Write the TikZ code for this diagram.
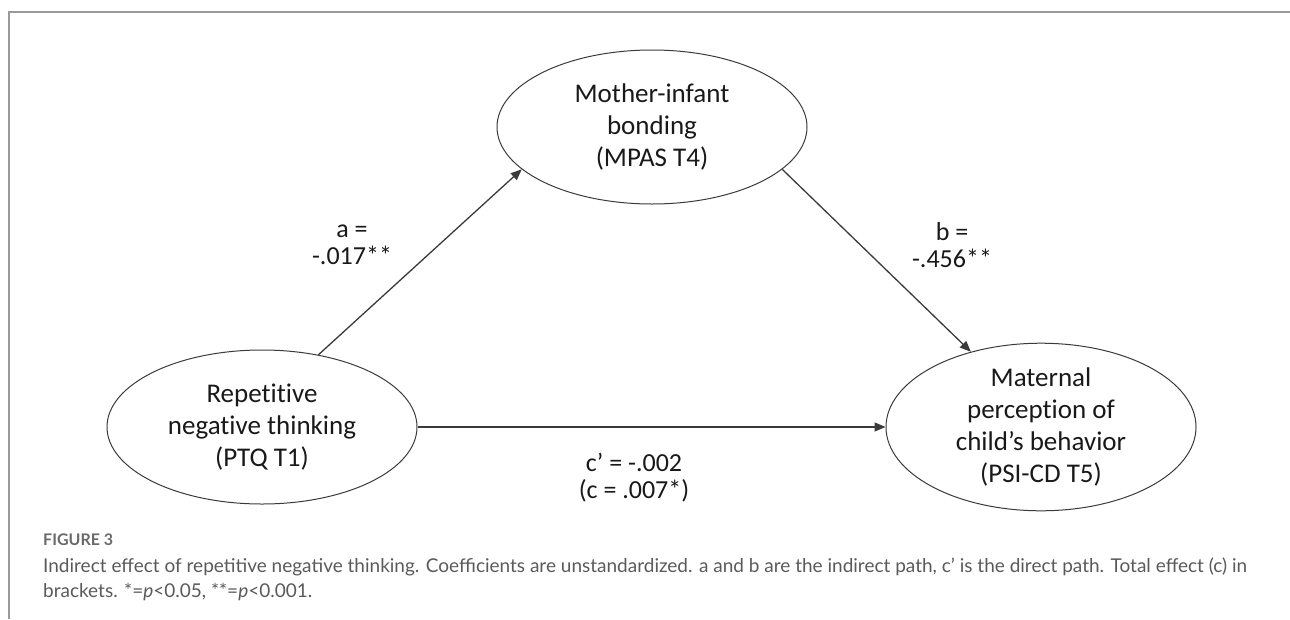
\documentclass[tikz,border=0pt]{standalone}
\usepackage{fontspec}
\setmainfont{Carlito}[Ligatures=CommonOff]
\newfontfamily\capfont{Lato}
\usetikzlibrary{shapes.geometric,arrows.meta}
\definecolor{linegray}{HTML}{3A3A3A}
\definecolor{framegray}{HTML}{9A9A9A}
\definecolor{capgray}{HTML}{5A5A5A}
\definecolor{figgray}{HTML}{6A6A6A}
\begin{document}
\begin{tikzpicture}[x=1pt,y=-1pt,
  var/.style={ellipse,draw=linegray,line width=1pt,minimum width=310pt,minimum height=154pt,inner sep=0pt,align=center,text=black!90,font=\fontsize{27}{32}\selectfont},
  pathline/.style={draw=linegray,line width=1.3pt,-{Triangle[length=11pt,width=9pt]}},
  coef/.style={align=center,text=black!90,font=\fontsize{26}{27}\selectfont},
  figlabel/.style={anchor=base west,inner sep=0pt,text=figgray,font=\capfont\bfseries\fontsize{16}{16}\selectfont},
  captext/.style={anchor=base west,inner sep=0pt,text=capgray,font=\capfont\fontsize{19}{19}\selectfont}
  ]
\useasboundingbox (0,0) rectangle (1290,619);
\draw[framegray,line width=1.5pt] (9,619) -- (9,12) -- (1290,12);
\node[var] (T) at (652,127) {Mother-infant\\bonding\\(MPAS T4)};
\node[var] (L) at (262,427) {Repetitive\\negative thinking\\(PTQ T1)};
\node[var] (R) at (1041,427) {Maternal\\perception of\\child’s behavior\\(PSI-CD T5)};
\draw[pathline] (L.52) -- (T.198);
\draw[pathline] (T.-18) -- (R.133);
\draw[pathline] (L.east) -- (R.west);
\node[coef] (la) at (352,245) {a =\\-.017**};
\node[coef] (lb) at (952,245) {b =\\-.456**};
\node[coef] (lc) at (634,478) {c’ = -.002\\(c = .007*)};
\node[figlabel] (fig) at (43,545) {FIGURE 3};
\node[captext] (cap1) at (43,572) {Indirect effect of repetitive negative thinking. Coefficients are unstandardized. a and b are the indirect path, c’ is the direct path. Total effect (c) in};
\node[captext] (cap2) at (43,597) {brackets. *=\textit{p}<0.05, **=\textit{p}<0.001.};
\end{tikzpicture}
\end{document}
